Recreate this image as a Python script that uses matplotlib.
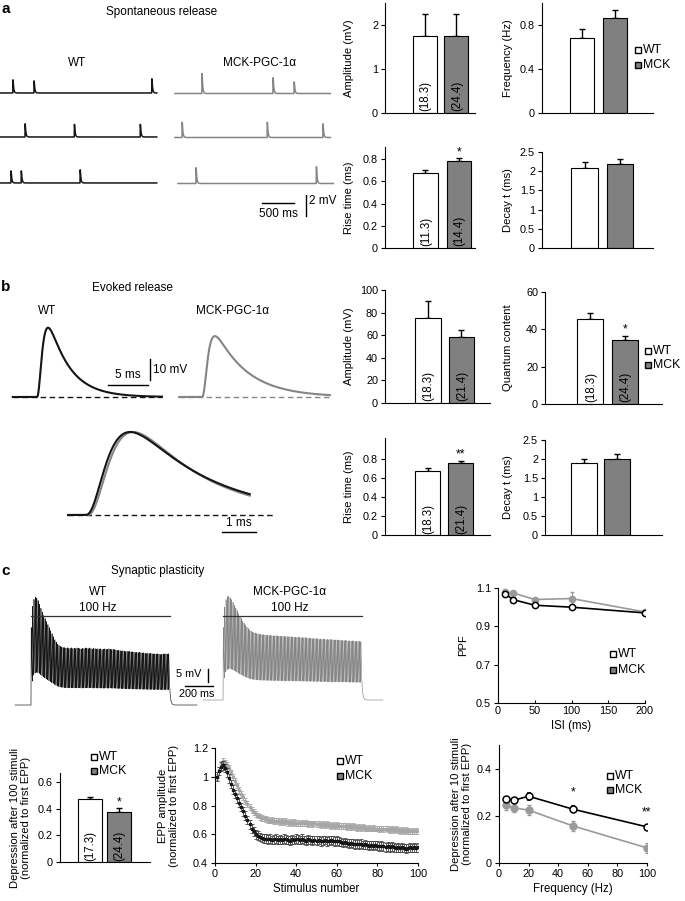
import numpy as np
import matplotlib
matplotlib.use('Agg')
import matplotlib.pyplot as plt
from matplotlib.ticker import FuncFormatter

plt.rcParams['font.family'] = ['Liberation Sans', 'DejaVu Sans']
plt.rcParams['axes.linewidth'] = 0.8

# ---------------- data ----------------
groups = ['WT', 'MCK']

# panel a bars
a_amp_vals, a_amp_errs, a_amp_n = [1.75, 1.75], [0.50, 0.50], ['(18.3)', '(24.4)']
a_freq_vals, a_freq_errs = [0.68, 0.865], [0.08, 0.075]
a_rise_vals, a_rise_errs, a_rise_n = [0.68, 0.78], [0.02, 0.03], ['(11.3)', '(14.4)']
a_decay_vals, a_decay_errs = [2.08, 2.20], [0.17, 0.13]

# panel b bars
b_amp_vals, b_amp_errs, b_amp_n = [75.5, 58.5], [15.0, 6.5], ['(18.3)', '(21.4)']
b_qc_vals, b_qc_errs, b_qc_n = [45.5, 34.5], [3.5, 2.0], ['(18.3)', '(24.4)']
b_rise_vals, b_rise_errs, b_rise_n = [0.67, 0.76], [0.03, 0.02], ['(18.3)', '(21.4)']
b_decay_vals, b_decay_errs = [1.90, 2.00], [0.09, 0.13]

# panel c bars
c_dep100_vals, c_dep100_errs, c_dep100_n = [0.472, 0.379], [0.014, 0.025], ['(17.3)', '(24.4)']

# PPF
ppf_isi = [10, 20, 50, 100, 200]
ppf_wt = [1.07, 1.04, 1.01, 1.00, 0.97]
ppf_wt_err = [0.01, 0.01, 0.01, 0.01, 0.01]
ppf_mck = [1.08, 1.075, 1.04, 1.045, 0.975]
ppf_mck_err = [0.01, 0.01, 0.01, 0.035, 0.01]

# depression after 10 stimuli
dep_freq = [5, 10, 20, 50, 100]
dep_wt = [0.270, 0.266, 0.283, 0.228, 0.153]
dep_wt_err = [0.008, 0.008, 0.015, 0.012, 0.010]
dep_mck = [0.245, 0.234, 0.224, 0.157, 0.064]
dep_mck_err = [0.02, 0.02, 0.02, 0.02, 0.02]

# EPP amplitude during 100 Hz train (normalized)
stim_num = list(range(1, 101))
epp_wt = [1.00, 1.04, 1.07, 1.08, 1.06, 1.03, 0.99, 0.95, 0.91, 0.88,
          0.85, 0.82, 0.79, 0.76, 0.73, 0.70, 0.67, 0.64, 0.62, 0.60,
          0.59, 0.58, 0.575, 0.57, 0.57, 0.565, 0.57, 0.56, 0.565, 0.57,
          0.56, 0.565, 0.56, 0.57, 0.565, 0.56, 0.555, 0.565, 0.56, 0.57,
          0.565, 0.56, 0.57, 0.56, 0.555, 0.565, 0.56, 0.555, 0.56, 0.555,
          0.56, 0.55, 0.555, 0.56, 0.55, 0.555, 0.56, 0.555, 0.55, 0.555,
          0.55, 0.545, 0.54, 0.545, 0.54, 0.535, 0.54, 0.535, 0.53, 0.535,
          0.53, 0.535, 0.525, 0.53, 0.525, 0.52, 0.525, 0.52, 0.525, 0.52,
          0.515, 0.52, 0.515, 0.51, 0.515, 0.51, 0.515, 0.51, 0.505, 0.51,
          0.505, 0.51, 0.505, 0.50, 0.505, 0.51, 0.505, 0.51, 0.505, 0.51]
epp_mck = [1.00, 1.05, 1.09, 1.11, 1.10, 1.08, 1.06, 1.03, 1.00, 0.97,
           0.94, 0.91, 0.88, 0.86, 0.83, 0.81, 0.79, 0.77, 0.755, 0.74,
           0.73, 0.72, 0.715, 0.71, 0.705, 0.70, 0.695, 0.70, 0.69, 0.695,
           0.69, 0.685, 0.69, 0.685, 0.69, 0.68, 0.685, 0.68, 0.685, 0.68,
           0.68, 0.675, 0.68, 0.675, 0.68, 0.67, 0.675, 0.67, 0.675, 0.67,
           0.67, 0.665, 0.67, 0.665, 0.67, 0.665, 0.66, 0.665, 0.66, 0.665,
           0.66, 0.655, 0.66, 0.655, 0.65, 0.655, 0.65, 0.655, 0.65, 0.645,
           0.65, 0.645, 0.65, 0.645, 0.64, 0.645, 0.64, 0.645, 0.64, 0.64,
           0.635, 0.64, 0.635, 0.64, 0.635, 0.63, 0.635, 0.63, 0.635, 0.63,
           0.625, 0.63, 0.625, 0.63, 0.625, 0.62, 0.625, 0.62, 0.625, 0.62]
epp_wt_err = 0.03
epp_mck_err = 0.02

# spontaneous release traces: spike times (ms) and amplitudes (mV)
wt_spk_t = [[200, 530, 2370], [390, 1160, 2190], [170, 330, 1250]]
wt_spk_a = [[1.25, 1.15, 1.35], [1.25, 1.2, 1.2], [1.15, 1.15, 1.25]]
mck_spk_t = [[420, 1530, 1860], [110, 1440, 2310], [280, 2160]]
mck_spk_a = [[1.9, 1.5, 1.1], [1.45, 1.45, 1.3], [1.5, 1.6]]

# evoked EPP (mV) in example traces
evk_wt_amp, evk_mck_amp = 33.0, 29.0
# 100 Hz train EPP scale (mV)
train_wt_amp, train_mck_amp = 31.0, 29.0

# ---------------- style ----------------
W, H = 685, 901
BLACK = '#151515'
GRAY = '#808080'
LGRAY = '#a6a6a6'
TR_GRAY = '#858585'
FS = 7.8

fig = plt.figure(figsize=(W / 100, H / 100), dpi=100)


def add_ax(x1, y1, x2, y2):
    ax = fig.add_axes([x1 / W, 1 - y2 / H, (x2 - x1) / W, (y2 - y1) / H])
    ax._box = (x1, y1, x2, y2)
    return ax


def ylab_at(ax, xc, nlines=1):
    # xc: wanted horizontal centre (px) of the label block
    x1, y1, x2, y2 = ax._box
    ax.yaxis.set_label_coords((xc + 6 * nlines - x1) / (x2 - x1), 0.5)


gfmt = FuncFormatter(lambda v, p: '%g' % round(v, 3))


def style_ax(ax):
    for s in ['top', 'right']:
        ax.spines[s].set_visible(False)
    ax.tick_params(axis='y', direction='out', length=3, width=0.8, labelsize=FS, pad=2)
    ax.tick_params(axis='x', direction='out', length=2.5, width=0.8, labelsize=FS, pad=2)
    ax.yaxis.set_major_formatter(gfmt)


def bar_panel(box, vals, errs, ylim, yticks, ylabel, xlim, width, labx, nlab=None, star=None):
    ax = add_ax(*box)
    ax.bar([1, 2], vals, width=width, color=['white', GRAY], edgecolor='black', linewidth=0.8, zorder=2)
    ax.errorbar([1, 2], vals, yerr=[[0, 0], errs], fmt='none', ecolor='black',
                elinewidth=1.0, capsize=2, capthick=1.0, zorder=1)
    ax.set_xlim(*xlim)
    ax.set_ylim(*ylim)
    ax.set_yticks(yticks)
    ax.set_xticks([])
    style_ax(ax)
    ax.set_ylabel(ylabel, fontsize=FS + 0.3, linespacing=1.1)
    ylab_at(ax, labx, ylabel.count('\n') + 1)
    if nlab:
        for xi, s in zip([1, 2], nlab):
            ax.text(xi + 0.02, 0.015, s, transform=ax.get_xaxis_transform(), rotation=90,
                    ha='center', va='bottom', fontsize=FS + 0.5, zorder=3)
    if star:
        ax.text(2, vals[1] + errs[1], star, ha='center', va='bottom', fontsize=FS + 1)
    return ax


# panel a bars
bar_panel((385, 3, 475, 113), a_amp_vals, a_amp_errs, (0, 2.5), [0, 1, 2], 'Amplitude (mV)',
          (-0.27, 2.59), 0.76, 348, a_amp_n)
bar_panel((542, 3, 653, 113), a_freq_vals, a_freq_errs, (0, 1.0), [0, 0.4, 0.8], 'Frequency (Hz)',
          (-0.23, 3.18), 0.74, 507)
bar_panel((385, 147, 475, 248), a_rise_vals, a_rise_errs, (0, 0.91), [0, 0.2, 0.4, 0.6, 0.8],
          'Rise time (ms)', (-0.21, 2.48), 0.74, 348, a_rise_n, '*')
bar_panel((542, 152, 653, 248), a_decay_vals, a_decay_errs, (0, 2.5), [0, 0.5, 1, 1.5, 2, 2.5],
          'Decay t (ms)', (-0.2, 2.93), 0.76, 507)

# panel b bars
bar_panel((385, 290, 490, 403), b_amp_vals, b_amp_errs, (0, 100), [0, 20, 40, 60, 80, 100],
          'Amplitude (mV)', (-0.28, 2.85), 0.77, 348, b_amp_n)
bar_panel((545, 292, 662, 404), b_qc_vals, b_qc_errs, (0, 60), [0, 20, 40, 60], 'Quantum content',
          (-0.29, 3.06), 0.74, 507, b_qc_n, '*')
bar_panel((385, 438, 490, 535), b_rise_vals, b_rise_errs, (0, 1.02), [0, 0.2, 0.4, 0.6, 0.8],
          'Rise time (ms)', (-0.29, 2.88), 0.76, 348, b_rise_n, '**')
bar_panel((545, 440, 662, 535), b_decay_vals, b_decay_errs, (0, 2.5), [0, 0.5, 1, 1.5, 2, 2.5],
          'Decay t (ms)', (-0.16, 3.33), 0.78, 507)

# panel c bar
bar_panel((60, 773, 150, 862), c_dep100_vals, c_dep100_errs, (0, 0.67), [0, 0.2, 0.4, 0.6],
          'Depression after 100 stimuli\n(normalized to first EPP)', (-0.03, 3.07), 0.83, 19,
          c_dep100_n, '*')

# PPF
ax = add_ax(498, 588, 645, 703)
ax.errorbar(ppf_isi, ppf_mck, yerr=ppf_mck_err, color='#9a9a9a', marker='o', ms=4.5, mfc='#9a9a9a',
            mec='#9a9a9a', lw=1.2, elinewidth=0.8, capsize=1.5, zorder=2)
ax.errorbar(ppf_isi, ppf_wt, yerr=ppf_wt_err, color='black', marker='o', ms=4.5, mfc='white',
            mec='black', mew=1.1, lw=1.2, elinewidth=0.8, capsize=1.5, zorder=3)
ax.set_xlim(0, 200)
ax.set_ylim(0.5, 1.1)
ax.set_yticks([0.5, 0.7, 0.9, 1.1])
ax.set_xticks([0, 50, 100, 150, 200])
style_ax(ax)
ax.tick_params(axis='x', direction='in', length=2)
ax.set_ylabel('PPF', fontsize=FS + 0.3)
ylab_at(ax, 462)
ax.set_xlabel('ISI (ms)', fontsize=FS + 0.5, labelpad=3)

# EPP amplitude
ax = add_ax(215, 748, 418, 863)
ax.errorbar(stim_num, epp_mck, yerr=epp_mck_err, fmt='s', color=LGRAY, ms=2, elinewidth=0.6,
            capsize=1.2, capthick=0.6, zorder=2)
ax.errorbar(stim_num, epp_wt, yerr=epp_wt_err, fmt='s', color=BLACK, ms=2, elinewidth=0.6,
            capsize=1.2, capthick=0.6, ecolor='#444444', zorder=3)
ax.set_xlim(0, 100)
ax.set_ylim(0.4, 1.2)
ax.set_yticks([0.4, 0.6, 0.8, 1.0, 1.2])
ax.set_xticks([0, 20, 40, 60, 80, 100])
style_ax(ax)
ax.set_ylabel('EPP amplitude\n(normalized to first EPP)', fontsize=FS + 0.3, linespacing=1.1)
ylab_at(ax, 167, 2)
ax.set_xlabel('Stimulus number', fontsize=FS + 0.5, labelpad=3)

# Depression after 10 stimuli
ax = add_ax(499, 745, 647, 863)
ax.errorbar(dep_freq, dep_mck, yerr=dep_mck_err, color='#9a9a9a', marker='o', ms=5, mfc='#9a9a9a',
            mec='#9a9a9a', lw=1.2, elinewidth=0.8, capsize=1.5, zorder=2)
ax.errorbar(dep_freq, dep_wt, yerr=dep_wt_err, color='black', marker='o', ms=5, mfc='white',
            mec='black', mew=1.1, lw=1.2, elinewidth=0.8, capsize=1.5, zorder=3)
ax.text(50, 0.275, '*', ha='center', va='bottom', fontsize=FS + 1)
ax.text(100, 0.19, '**', ha='center', va='bottom', fontsize=FS + 1)
ax.set_xlim(0, 100)
ax.set_ylim(0, 0.5)
ax.set_yticks([0, 0.2, 0.4])
ax.set_xticks([0, 20, 40, 60, 80, 100])
style_ax(ax)
ax.set_ylabel('Depression after 10 stimuli\n(normalized to first EPP)', fontsize=FS + 0.3,
              linespacing=1.1)
ylab_at(ax, 460, 2)
ax.set_xlabel('Frequency (Hz)', fontsize=FS + 0.5, labelpad=3)


# ---------------- traces ----------------
def kernel(t, tr, td, n=3):
    tc = np.clip(t, 0, None)
    k = np.where(t > 0, (1 - np.exp(-tc / tr)) ** n * np.exp(-tc / td), 0.0)
    tt = np.linspace(0, 12 * td, 6000)
    pk = ((1 - np.exp(-tt / tr)) ** n * np.exp(-tt / td)).max()
    return k / pk


# spontaneous
ax = add_ax(0, 40, 340, 230)
ax.set_xlim(0, 340 * 15.625)
ax.set_ylim(0, 190 / 10.5)
ax.axis('off')
row_base = [13.05, 8.86, 4.48]
for r in range(3):
    t = np.arange(0, 2450, 1.0)
    v = np.full_like(t, row_base[r])
    for ts, a in zip(wt_spk_t[r], wt_spk_a[r]):
        v += a * kernel(t - ts, 1.5, 10, 1)
    ax.plot(t, v, color=BLACK, lw=1.1)
    off = 2734 if r < 2 else 2781
    t = np.arange(0, 2430, 1.0)
    v = np.full_like(t, row_base[r] - 0.05)
    for ts, a in zip(mck_spk_t[r], mck_spk_a[r]):
        v += a * kernel(t - ts, 1.5, 10, 1)
    ax.plot(t + off, v, color=TR_GRAY, lw=1.1)
ax.plot([4094, 4594], [2.57, 2.57], color='black', lw=1.0)
ax.plot([4781, 4781], [1.33, 3.33], color='black', lw=1.0)

# evoked, top
ax = add_ax(0, 300, 340, 410)
ax.set_xlim(0, 42.5)
ax.set_ylim(-13 / 2.1, 97 / 2.1)
ax.axis('off')
t = np.arange(1.6, 20.25, 0.02)
ax.plot(t, evk_wt_amp * kernel(t - 4.6, 0.5, 2.6), color=BLACK, lw=1.5)
ax.plot([1.6, 20.25], [0, 0], color=BLACK, lw=1.0, ls=(0, (4, 2.5)), zorder=0)
t = np.arange(22.4, 41.25, 0.02)
ax.plot(t, evk_mck_amp * kernel(t - 25.25, 0.5, 4.0), color=TR_GRAY, lw=1.5)
ax.plot([22.4, 41.25], [0, 0], color=TR_GRAY, lw=1.0, ls=(0, (4, 2.5)), zorder=0)
ax.plot([13.5, 18.5], [5.7, 5.7], color='black', lw=1.0)
ax.plot([18.75, 18.75], [8.1, 18.1], color='black', lw=1.0)

# evoked, overlay (normalized)
ax = add_ax(0, 420, 340, 545)
ax.set_xlim(0, 10)
ax.set_ylim(-30 / 83, 95 / 83)
ax.axis('off')
t = np.arange(2.0, 7.35, 0.005)
ax.plot([2.0, 8.09], [0, 0], color=BLACK, lw=1.0, ls=(0, (4, 2.5)), zorder=0)
ax.plot(t, kernel(t - 2.55, 0.55, 2.0), color=TR_GRAY, lw=1.5)
ax.plot(t, kernel(t - 2.5, 0.5, 2.2), color=BLACK, lw=1.5)
ax.plot([6.53, 7.53], [-0.205, -0.205], color='black', lw=1.0)

# 100 Hz trains
ax = add_ax(0, 580, 440, 715)
ax.set_xlim(0, 440 * 7.2)
ax.set_ylim(-10 / 2.5, 125 / 2.5)
ax.axis('off')


def train(t0, onset, tend, amp, norm, base):
    t = np.arange(t0, tend, 0.1)
    v = np.full_like(t, base)
    for i, a in enumerate(norm):
        v += amp * a * kernel(t - (onset + 10 * i), 0.5, 6.5)
    return t, v


t, v = train(108, 223, 1418, train_wt_amp, epp_wt, 0.0)
ax.plot(t, v, color=BLACK, lw=0.45)
t, v = train(1462, 1606, 2758, train_mck_amp, epp_mck, 2.0)
ax.plot(t, v, color=TR_GRAY, lw=0.45)
ax.plot([223, 1223], [35.6, 35.6], color='#333333', lw=0.9)
ax.plot([1606, 2606], [35.6, 35.6], color='#333333', lw=0.9)
ax.plot([1332, 1532], [7.6, 7.6], color='black', lw=1.0)
ax.plot([1498, 1498], [9.4, 14.4], color='black', lw=1.0)

# ---------------- text overlay ----------------
ov = fig.add_axes([0, 0, 1, 1], zorder=10)
ov.set_xlim(0, W)
ov.set_ylim(H, 0)
ov.axis('off')


def T(x, y, s, ha='center', **kw):
    kw.setdefault('fontsize', FS + 0.7)
    ov.text(x, y, s, ha=ha, va='center', **kw)


T(1, 9, 'a', ha='left', fontsize=11, fontweight='bold')
T(162, 12, 'Spontaneous release')
T(77, 63, 'WT')
T(260, 63, 'MCK-PGC-1α')
T(278, 214, '500 ms')
T(309, 201, '2 mV', ha='left')

T(1, 287, 'b', ha='left', fontsize=11, fontweight='bold')
T(132, 288, 'Evoked release')
T(47, 311, 'WT')
T(233, 311, 'MCK-PGC-1α')
T(128, 375, '5 ms')
T(153, 370, '10 mV', ha='left')
T(239, 523, '1 ms')

T(1, 571, 'c', ha='left', fontsize=11, fontweight='bold')
T(158, 571, 'Synaptic plasticity')
T(98, 592, 'WT')
T(98, 608, '100 Hz')
T(290, 592, 'MCK-PGC-1α')
T(290, 608, '100 Hz')
T(189, 674, '5 mV', fontsize=FS)
T(197, 694, '200 ms', fontsize=FS)


def legend_px(x, y1, y2):
    ov.plot([x], [y1], 's', ms=4.5, mfc='white', mec='black', mew=1.0)
    ov.plot([x], [y2], 's', ms=4.5, mfc=GRAY, mec='black', mew=1.0)
    T(x + 5, y1, groups[0], ha='left', fontsize=FS + 1)
    T(x + 5, y2, groups[1], ha='left', fontsize=FS + 1)


legend_px(638, 50, 65)
legend_px(648, 351, 365)
legend_px(613, 654, 670)
legend_px(94, 757, 771)
legend_px(340, 761, 776)
legend_px(610, 776, 790)

fig.savefig('out.png', dpi=100)
